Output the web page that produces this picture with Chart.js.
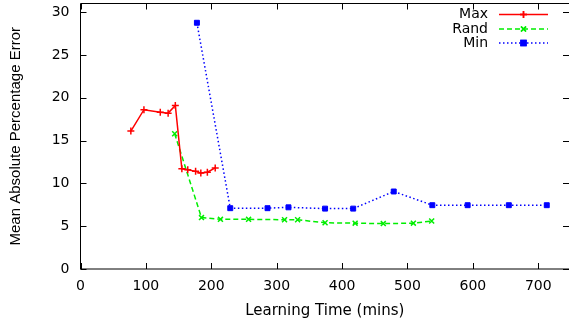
<!DOCTYPE html>
<html>
<head>
<meta charset="utf-8">
<script src="https://cdn.jsdelivr.net/npm/chart.js@4/dist/chart.umd.min.js"></script>
<style>
  html, body { margin: 0; padding: 0; background: #fff; overflow: hidden; }
  #wrap { width: 569px; height: 320px; }
</style>
</head>
<body>
<div id="wrap"><canvas id="chart" width="569" height="320"></canvas></div>
<script>
// values
var seriesNames = ["Max", "Rand", "Min"];

var maxTime  = [77, 97, 122, 134, 145, 155, 164, 176, 184, 194, 206];
var maxError = [16.1, 18.6, 18.3, 18.2, 19.1, 11.7, 11.6, 11.4, 11.2, 11.3, 11.8];

var randTime  = [144, 185, 214, 257, 312, 332, 374, 420, 463, 509, 537];
var randError = [15.8, 6.0, 5.8, 5.8, 5.75, 5.75, 5.4, 5.35, 5.3, 5.35, 5.6];

var minTime  = [178, 229, 286, 318, 374, 417, 479, 538, 592, 655, 713];
var minError = [28.75, 7.1, 7.1, 7.2, 7.05, 7.05, 9.05, 7.45, 7.45, 7.45, 7.45];

var xTicks = [0, 100, 200, 300, 400, 500, 600, 700];
var yTicks = [0, 5, 10, 15, 20, 25, 30];

function pairs(xs, ys) {
  var out = [];
  for (var i = 0; i < xs.length; i++) {
    out.push({x: xs[i], y: ys[i]});
  }
  return out;
}

// chart.js reserves room for edge labels, the frame here is fixed instead
function noPadding(scale) {
  scale.paddingTop = 0;
  scale.paddingBottom = 0;
  scale.paddingLeft = 0;
  scale.paddingRight = 0;
}

var tickFont = {family: "DejaVu Sans", size: 14};

// gnuplot style frame: top border and inward ticks on all four sides
// (the right border itself falls just outside the picture)
var framePlugin = {
  id: "frame",
  beforeDatasetsDraw: function(chart) {
    var ctx = chart.ctx;
    var a = chart.chartArea;
    var xs = chart.scales.x, ys = chart.scales.y;
    var len = 6;
    ctx.save();
    ctx.strokeStyle = "#000";
    ctx.lineWidth = 1;
    ctx.beginPath();
    ctx.moveTo(a.right, a.top);
    ctx.lineTo(a.left, a.top);
    ctx.lineTo(a.left, a.bottom);
    ctx.lineTo(a.right, a.bottom);
    xTicks.forEach(function(v) {
      var px = Math.round(xs.getPixelForValue(v)) + 0.5;
      ctx.moveTo(px, a.bottom);
      ctx.lineTo(px, a.bottom - len);
      ctx.moveTo(px, a.top);
      ctx.lineTo(px, a.top + len);
    });
    yTicks.forEach(function(v) {
      var py = Math.round(ys.getPixelForValue(v)) + 0.5;
      ctx.moveTo(a.left, py);
      ctx.lineTo(a.left + len, py);
      ctx.moveTo(a.right, py);
      ctx.lineTo(a.right - len, py);
    });
    ctx.stroke();
    ctx.restore();
  }
};

// legend inside the plot, text on the left and sample on the right
var keyPlugin = {
  id: "key",
  afterDatasetsDraw: function(chart) {
    var ctx = chart.ctx;
    var textRight = 488, x0 = 499, x1 = 548;
    var rows = [14.5, 29, 43];
    ctx.save();
    chart.data.datasets.forEach(function(ds, i) {
      var y = rows[i];
      ctx.font = "14px 'DejaVu Sans'";
      ctx.fillStyle = "#000";
      ctx.textAlign = "right";
      ctx.textBaseline = "middle";
      ctx.fillText(ds.label, textRight, y);
      ctx.strokeStyle = ds.borderColor;
      ctx.lineWidth = ds.borderWidth;
      ctx.setLineDash(ds.borderDash || []);
      ctx.beginPath();
      ctx.moveTo(x0, y);
      ctx.lineTo(x1, y);
      ctx.stroke();
      ctx.setLineDash([]);
      Chart.helpers.drawPoint(ctx, {
        pointStyle: ds.pointStyle,
        radius: ds.pointRadius,
        borderWidth: ds.pointBorderWidth,
        rotation: 0
      }, (x0 + x1) / 2, y);
      ctx.fillStyle = ds.borderColor;
      if (ds.pointStyle === "rect") ctx.fill();
      ctx.stroke();
    });
    ctx.restore();
  }
};

new Chart(document.getElementById("chart"), {
  type: "line",
  data: {
    datasets: [{
      label: seriesNames[0],
      data: pairs(maxTime, maxError),
      borderColor: "#ff0000",
      backgroundColor: "#ff0000",
      borderWidth: 1.5,
      pointStyle: "cross",
      pointRadius: 3.5,
      pointBorderWidth: 1.5
    }, {
      label: seriesNames[1],
      data: pairs(randTime, randError),
      borderColor: "#00ee00",
      backgroundColor: "#00ee00",
      borderWidth: 1.5,
      borderDash: [5, 3],
      pointStyle: "crossRot",
      pointRadius: 3.5,
      pointBorderWidth: 1.5
    }, {
      label: seriesNames[2],
      data: pairs(minTime, minError),
      borderColor: "#0000ff",
      backgroundColor: "#0000ff",
      borderWidth: 1.5,
      borderDash: [1.5, 2.5],
      pointStyle: "rect",
      pointRadius: 3.5,
      pointBorderWidth: 1
    }]
  },
  options: {
    responsive: false,
    animation: false,
    devicePixelRatio: 1,
    layout: {autoPadding: false, padding: {top: 3.5, right: 0, bottom: 0, left: 0}},
    plugins: {
      legend: {display: false},
      tooltip: {enabled: false}
    },
    scales: {
      x: {
        type: "linear",
        min: 0,
        max: 747,
        afterBuildTicks: function(scale) {
          scale.ticks = xTicks.map(function(v) { return {value: v}; });
        },
        afterFit: function(scale) { scale.height = 51; noPadding(scale); },
        grid: {display: false, drawTicks: false},
        border: {display: false},
        ticks: {color: "#000", font: tickFont, padding: 9, maxRotation: 0},
        title: {
          display: true,
          text: "Learning Time (mins)",
          color: "#000",
          font: {family: "DejaVu Sans", size: 15},
          padding: {top: 5.5, bottom: 0}
        }
      },
      y: {
        type: "linear",
        min: 0,
        max: 31,
        afterBuildTicks: function(scale) {
          scale.ticks = yTicks.map(function(v) { return {value: v}; });
        },
        afterFit: function(scale) { scale.width = 80.5; noPadding(scale); },
        grid: {display: false, drawTicks: false},
        border: {display: false},
        ticks: {color: "#000", font: tickFont, padding: 11},
        title: {
          display: true,
          text: "Mean Absolute Percentage Error",
          color: "#000",
          font: {family: "Liberation Sans", size: 15},
          padding: {top: 7, bottom: 0}
        }
      }
    }
  },
  plugins: [framePlugin, keyPlugin]
});
</script>
</body>
</html>
